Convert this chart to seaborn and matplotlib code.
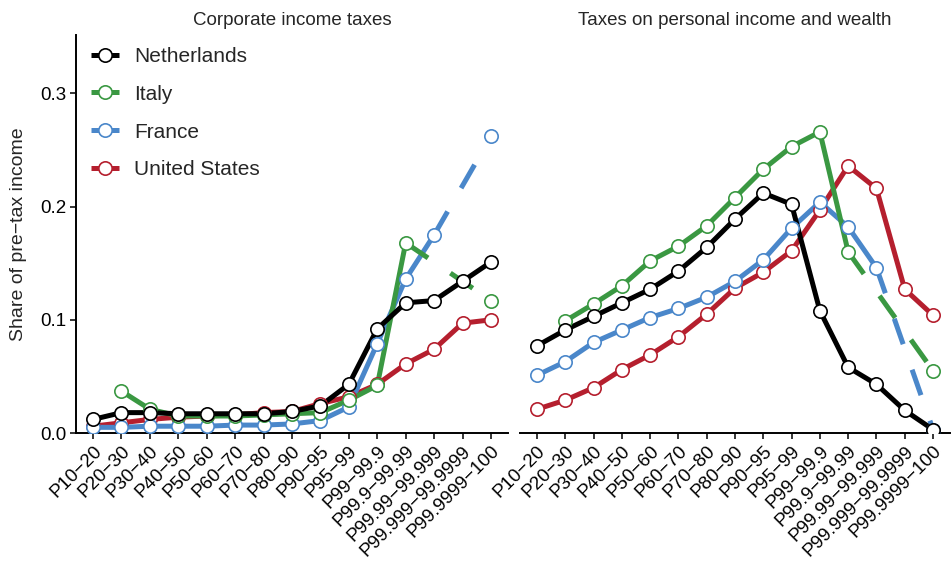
import numpy as np
import pandas as pd
import matplotlib
matplotlib.use("Agg")
import matplotlib.pyplot as plt
import seaborn as sns
from matplotlib.lines import Line2D

# Income groups along the x axis
groups = ["P10−20", "P20−30", "P30−40", "P40−50", "P50−60", "P60−70",
          "P70−80", "P80−90", "P90−95", "P95−99", "P99−99.9",
          "P99.9−99.99", "P99.99−99.999", "P99.999−99.9999", "P99.9999−100"]

countries = ["Netherlands", "Italy", "France", "United States"]
colors = ["#000000", "#3A9842", "#4A87CA", "#B51F2E"]

nan = np.nan

# Corporate income taxes (share of pre-tax income); NaN = group not observed
corp_netherlands = [0.012, 0.018, 0.018, 0.017, 0.017, 0.017, 0.017, 0.019,
                    0.024, 0.043, 0.092, 0.115, 0.117, 0.134, 0.151]
corp_italy = [nan, 0.037, 0.021, 0.015, 0.015, 0.015, 0.016, 0.017,
              0.018, 0.029, 0.042, 0.168, nan, nan, 0.117]
corp_france = [0.005, 0.005, 0.006, 0.006, 0.006, 0.007, 0.007, 0.008,
               0.011, 0.023, 0.079, 0.136, 0.175, nan, 0.262]
corp_us = [0.006, 0.009, 0.012, 0.014, 0.015, 0.016, 0.018, 0.019,
           0.026, 0.032, 0.043, 0.061, 0.074, 0.097, 0.100]

# Taxes on personal income and wealth
pers_netherlands = [0.077, 0.091, 0.103, 0.115, 0.127, 0.143, 0.164, 0.189,
                    0.212, 0.202, 0.108, 0.058, 0.043, 0.020, 0.003]
pers_italy = [nan, 0.099, 0.114, 0.130, 0.152, 0.165, 0.183, 0.208,
              0.233, 0.253, 0.266, 0.160, nan, nan, 0.055]
pers_france = [0.051, 0.063, 0.080, 0.091, 0.102, 0.110, 0.120, 0.134,
               0.153, 0.181, 0.204, 0.182, 0.146, nan, 0.003]
pers_us = [0.021, 0.029, 0.040, 0.056, 0.069, 0.085, 0.105, 0.128,
           0.142, 0.161, 0.197, 0.236, 0.216, 0.127, 0.104]

panels = [
    ("Corporate income taxes",
     [corp_netherlands, corp_italy, corp_france, corp_us]),
    ("Taxes on personal income and wealth",
     [pers_netherlands, pers_italy, pers_france, pers_us]),
]

sns.set_theme(style="white")
plt.rcParams["font.family"] = ["Liberation Sans", "DejaVu Sans"]

W, H = 951, 571
fig = plt.figure(figsize=(W / 100, H / 100), dpi=100)

def px_axes(x0, x1, top, bottom):
    return fig.add_axes([x0 / W, (H - bottom) / H, (x1 - x0) / W, (bottom - top) / H])

ax_left = px_axes(76, 508, 35, 433)
ax_right = px_axes(520, 950, 35, 433)

LW = 3.6
DASH = (0, (5.4, 5.4))
MS = 92
TICK_FS = 13.5

def long_frame(values):
    return pd.DataFrame({"pos": np.arange(len(groups)), "value": values})

def draw_panel(ax, series):
    order = [3, 2, 1, 0]  # United States at the bottom, Netherlands on top
    # lines first
    for i in order:
        df = long_frame(series[i])
        ok = df["value"].notna().to_numpy()
        # solid runs of consecutive observed groups
        run_id = np.cumsum(~ok)
        for rid in np.unique(run_id[ok]):
            seg = df[ok & (run_id == rid)]
            if len(seg) > 1:
                sns.lineplot(data=seg, x="pos", y="value", ax=ax, color=colors[i],
                             lw=LW, estimator=None, sort=False, legend=False,
                             solid_capstyle="butt", solid_joinstyle="round", zorder=2)
        # dashed links across unobserved groups
        p = df.loc[ok, "pos"].to_numpy()
        for a, b in zip(p[:-1], p[1:]):
            if b - a > 1:
                seg = df.loc[[a, b]]
                sns.lineplot(data=seg, x="pos", y="value", ax=ax, color=colors[i],
                             lw=LW, estimator=None, sort=False, legend=False,
                             linestyle=DASH, dash_capstyle="butt", zorder=2)
    # markers on top
    for i in order:
        df = long_frame(series[i]).dropna()
        sns.scatterplot(data=df, x="pos", y="value", ax=ax, marker="o", s=MS,
                        facecolor="white", edgecolor=colors[i], linewidth=1.2,
                        legend=False, zorder=3)

for ax, (title, series) in zip([ax_left, ax_right], panels):
    draw_panel(ax, series)
    ax.set_xlim(-0.6, len(groups) - 0.4)
    ax.set_ylim(0, 0.3516)
    ax.set_xticks(np.arange(len(groups)))
    ax.set_xticklabels(groups, rotation=45, ha="right", va="top",
                       rotation_mode="anchor", fontsize=TICK_FS)
    ax.set_xlabel("")
    ax.set_ylabel("")
    ax.set_title(title, fontsize=13.5, pad=7)
    ax.tick_params(axis="x", length=4, width=1.1, color="black", pad=3,
                   bottom=True, labelcolor="black")
    for s in ["top", "right"]:
        ax.spines[s].set_visible(False)
    ax.spines["bottom"].set_color("black")
    ax.spines["bottom"].set_linewidth(1.4)
    ax.grid(False)
    ax.set_facecolor("white")

ax_left.set_yticks([0.0, 0.1, 0.2, 0.3])
ax_left.set_yticklabels(["0.0", "0.1", "0.2", "0.3"], fontsize=TICK_FS)
ax_left.tick_params(axis="y", length=4, width=1.1, color="black", pad=3,
                    left=True, labelcolor="black")
ax_left.spines["left"].set_color("black")
ax_left.spines["left"].set_linewidth(1.4)

ax_right.spines["left"].set_visible(False)
ax_right.set_yticks([])

fig.text(19 / W, 1 - 234 / H, "Share of pre−tax income", rotation=90,
         ha="center", va="center", fontsize=14)

handles = [Line2D([0], [0], color=c, lw=LW, solid_capstyle="butt", marker="o",
                  markersize=9.6, markerfacecolor="white", markeredgecolor=c,
                  markeredgewidth=1.2) for c in colors]
ax_left.legend(handles, countries, loc="upper left", frameon=False,
               bbox_to_anchor=(91 / W, 1 - 47 / H), bbox_transform=fig.transFigure,
               fontsize=15, handlelength=1.35, handletextpad=0.72,
               labelspacing=0.9, borderaxespad=0, borderpad=0)

fig.savefig("out.png", dpi=100, facecolor="white")
